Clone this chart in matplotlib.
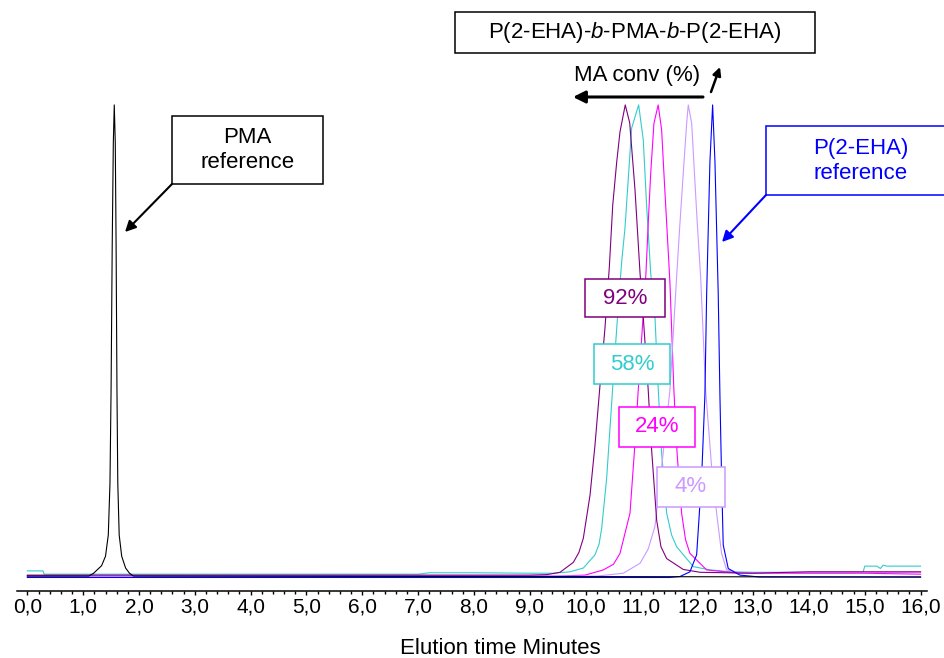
import matplotlib
matplotlib.use("Agg")
import matplotlib.pyplot as plt
from matplotlib.patches import Rectangle, FancyArrowPatch
from matplotlib.ticker import MultipleLocator

plt.rcParams['font.family'] = ['Liberation Sans', 'DejaVu Sans']
plt.rcParams['mathtext.fontset'] = 'custom'
plt.rcParams['mathtext.rm'] = 'Liberation Sans'
plt.rcParams['mathtext.it'] = 'Liberation Sans:italic'

W, H = 944, 658

# elution time (min) / normalised signal (%)
pma_t = [0.0, 1.10, 1.187, 1.25, 1.33, 1.40, 1.45, 1.48, 1.50, 1.52, 1.54, 1.557,
         1.575, 1.59, 1.605, 1.62, 1.645, 1.69, 1.76, 1.83, 1.90, 16.0]
pma_y = [0.3, 0.3, 0.9, 1.6, 2.5, 4.5, 9.0, 20.0, 40.0, 70.0, 92.0, 100.0,
         92.0, 70.0, 40.0, 20.0, 9.0, 4.5, 2.0, 0.9, 0.3, 0.1]

peha_t = [0.0, 11.5, 11.69, 11.869, 11.989, 12.078, 12.137, 12.168, 12.227, 12.275,
          12.317, 12.376, 12.406, 12.436, 12.465, 12.555, 12.764, 13.12, 16.0]
peha_y = [0.0, 0.0, 0.2, 1.2, 4.8, 21.0, 38.6, 59.8, 88.0, 100.0,
          88.0, 59.8, 38.6, 21.0, 6.9, 1.9, 0.5, 0.1, 0.1]

c92_t = [0.0, 9.0, 9.304, 9.542, 9.780, 9.88, 9.959, 10.079, 10.168, 10.258, 10.347,
         10.424, 10.486, 10.557, 10.616, 10.71, 10.79, 10.885, 10.975, 11.033, 11.122,
         11.183, 11.273, 11.35, 11.452, 11.749, 12.05, 13.0, 14.0, 16.0]
c92_y = [0.5, 0.5, 0.6, 1.1, 3.2, 5.3, 8.3, 17.4, 28.0, 40.7, 52.8,
         65.5, 78.8, 87.9, 94.3, 100.0, 96.2, 82.0, 64.4, 55.1, 39.6,
         26.9, 12.1, 6.5, 4.0, 1.7, 1.1, 0.9, 1.2, 1.2]

c58_t = [0.0, 0.28, 0.30, 2.0, 4.0, 6.0, 7.0, 7.2, 8.0, 9.0,
         9.422, 9.721, 9.959, 10.168, 10.24, 10.288, 10.377, 10.437, 10.496, 10.557, 10.646,
         10.705, 10.765, 10.825, 10.95, 11.033, 11.094, 11.166, 11.242, 11.302, 11.362,
         11.452, 11.54, 11.631, 11.928, 12.23, 12.6, 13.0, 14.0, 14.97, 15.0, 15.22,
         15.28, 15.33, 15.40, 16.0]
c58_y = [1.4, 1.4, 0.7, 0.7, 0.7, 0.7, 0.7, 1.0, 1.0, 0.9,
         0.9, 1.2, 2.0, 4.8, 7.0, 10.4, 21.0, 31.6, 42.1, 52.7, 66.8,
         73.9, 84.5, 95.1, 100.0, 92.6, 78.5, 64.4, 55.2, 39.7, 26.3,
         13.6, 9.0, 6.5, 2.3, 1.6, 1.2, 1.1, 1.1, 1.1, 2.4, 2.4,
         1.9, 2.6, 2.4, 2.4]

c24_t = [0.0, 9.5, 9.99, 10.317, 10.50, 10.616, 10.795, 10.872, 10.943, 11.081, 11.122,
         11.166, 11.224, 11.30, 11.362, 11.403, 11.452, 11.511, 11.58, 11.64, 11.720,
         11.79, 11.869, 12.168, 12.76, 15.0, 16.0]
c24_y = [0.3, 0.3, 0.5, 1.6, 2.8, 5.1, 13.6, 26.3, 39.7, 64.4, 75.0,
         85.5, 96.1, 100.0, 94.7, 85.5, 75.0, 62.3, 40.0, 26.0, 13.6,
         8.0, 5.1, 1.6, 0.9, 0.9, 0.7]

c4_t = [0.0, 10.2, 10.675, 10.975, 11.12, 11.242, 11.362, 11.511, 11.631, 11.690, 11.749,
        11.810, 11.839, 11.90, 11.95, 12.00, 12.06, 12.15, 12.257, 12.347, 12.436,
        12.526, 12.823, 14.0, 16.0]
c4_y = [0.3, 0.3, 0.9, 3.0, 6.0, 10.8, 23.4, 39.7, 63.7, 75.0, 85.5,
        96.1, 100.0, 96.1, 85.5, 75.0, 63.7, 39.7, 23.4, 13.6, 5.1,
        1.6, 0.9, 1.1, 1.1]

tick_vals = list(range(17))
tick_labels = [f"{v},0" for v in tick_vals]

fig = plt.figure(figsize=(W / 100, H / 100), dpi=100)
ax = fig.add_axes([17.3 / W, 67 / H, 909.4 / W, 591 / H])

ax.plot(c58_t, c58_y, color='#33CCCC', lw=0.8)
ax.plot(c24_t, c24_y, color='#FF00FF', lw=0.8)
ax.plot(c4_t, c4_y, color='#CC99FF', lw=0.8)
ax.plot(c92_t, c92_y, color='#800080', lw=0.8)
ax.plot(peha_t, peha_y, color='#0000FF', lw=0.8)
ax.plot(pma_t, pma_y, color='black', lw=0.8)

ax.set_xlim(-0.18, 16.11)
ax.set_ylim(-2.86, 122.2)
ax.set_xticks(tick_vals)
ax.set_xticklabels(tick_labels)
ax.xaxis.set_minor_locator(MultipleLocator(0.2))
ax.tick_params(axis='x', which='major', length=3, width=1, pad=2, labelsize=15)
ax.tick_params(axis='x', which='minor', length=1.8, width=1)
ax.yaxis.set_visible(False)
for s in ['left', 'right', 'top']:
    ax.spines[s].set_visible(False)
ax.spines['bottom'].set_linewidth(1.1)
ax.patch.set_alpha(0)

fig.text(500 / W, 1 - 648 / H, "Elution time Minutes", ha='center', va='center', fontsize=16)


def box(x0, y0, x1, y1, color, text, fs=16):
    fig.add_artist(Rectangle((x0 / W, 1 - y1 / H), (x1 - x0) / W, (y1 - y0) / H,
                             transform=fig.transFigure, facecolor='white',
                             edgecolor=color, linewidth=1.1, zorder=5, clip_on=False))
    fig.text((x0 + x1) / 2 / W, 1 - (y0 + y1) / 2 / H, text, color=color, fontsize=fs,
             ha='center', va='center', zorder=6, linespacing=1.25)


def arrow(x0, y0, x1, y1, color, lw=1.5, ms=16):
    fig.add_artist(FancyArrowPatch((x0 / W, 1 - y0 / H), (x1 / W, 1 - y1 / H),
                                   transform=fig.transFigure, arrowstyle='-|>',
                                   mutation_scale=ms, color=color, lw=lw,
                                   shrinkA=0, shrinkB=0, zorder=6))


box(172, 116, 323, 184, 'black', "PMA\nreference")
arrow(172, 184, 125, 232, 'black')

box(766, 126, 955, 195, '#0000FF', "P(2-EHA)\nreference")
arrow(766, 195, 722, 242, '#0000FF')

box(455, 12, 815, 53, 'black', r"P(2-EHA)-$\mathit{b}$-PMA-$\mathit{b}$-P(2-EHA)")
fig.text(637 / W, 1 - 76 / H, "MA conv (%)", ha='center', va='center', fontsize=16)
arrow(703, 97, 573, 97, 'black', lw=2.2, ms=18)
arrow(711, 92, 720, 67, 'black', lw=1.8, ms=12)

box(585, 279, 665, 317, '#800080', "92%")
box(594, 344, 670, 384, '#33CCCC', "58%")
box(619, 407, 695, 447, '#FF00FF', "24%")
box(657, 467, 725, 507, '#CC99FF', "4%")

fig.savefig("out.png", dpi=100)
